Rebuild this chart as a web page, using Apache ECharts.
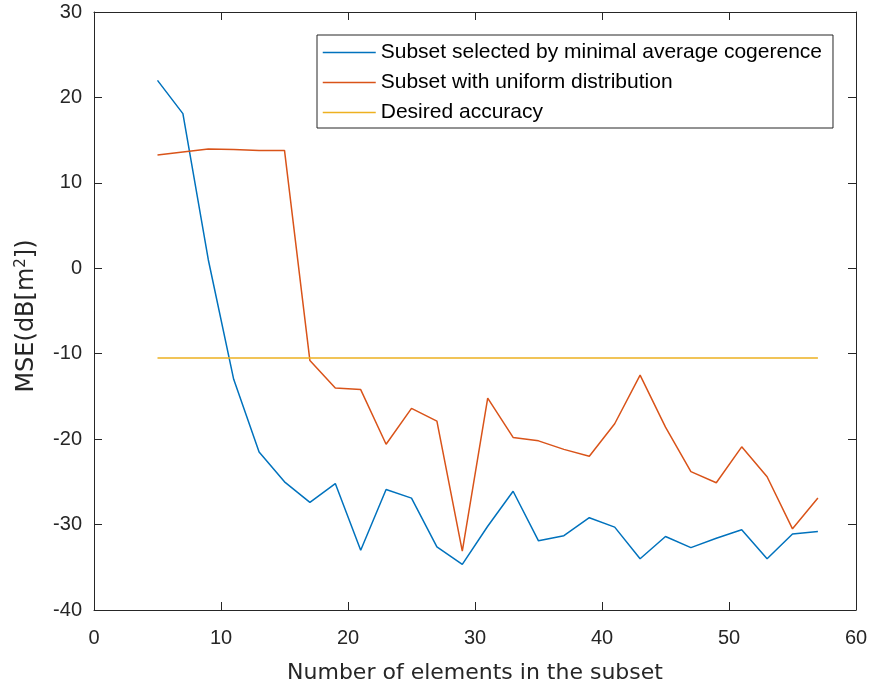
<!DOCTYPE html>
<html>
<head>
<meta charset="utf-8">
<script src="https://cdn.jsdelivr.net/npm/echarts@6/dist/echarts.min.js"></script>
<style>
html,body{margin:0;padding:0;background:#fff;}
#chart{width:871px;height:689px;}
</style>
</head>
<body>
<div id="chart"></div>
<script>
const xValues = [5,7,9,11,13,15,17,19,21,23,25,27,29,31,33,35,37,39,41,43,45,47,49,51,53,55,57];
const minimalCoherence = [22.0,18.1,1.0,-13.0,-21.5,-25.0,-27.4,-25.2,-33.0,-25.9,-26.9,-32.6,-34.65,-30.2,-26.1,-31.9,-31.3,-29.2,-30.3,-34.0,-31.4,-32.7,-31.6,-30.6,-34.0,-31.1,-30.8];
const uniformDistribution = [13.25,13.6,13.95,13.9,13.8,13.8,-10.8,-14.0,-14.2,-20.6,-16.4,-17.9,-33.1,-15.2,-19.8,-20.2,-21.2,-22.0,-18.2,-12.5,-18.6,-23.8,-25.1,-20.9,-24.4,-30.5,-26.9];
const desiredAccuracyX = [5,57];
const desiredAccuracy = [-10.5,-10.5];
const seriesNames = ['Subset selected by minimal average cogerence','Subset with uniform distribution','Desired accuracy'];
const xTicks = {min:0,max:60,interval:10};
const yTicks = {min:-40,max:30,interval:10};

const pairs = (xs, ys) => xs.map((x,i)=>[x, ys[i]]);
const FONT = 'Liberation Sans, Arial, Helvetica, sans-serif';
const NAMEFONT = 'DejaVu Sans, sans-serif';
const AX = '#262626';
const colors = ['#0072BD','#D95319','#EDB120'];

const chart = echarts.init(document.getElementById('chart'));
const axisLine = {show:true, onZero:false, lineStyle:{color:AX, width:1}};
const tickIn = {show:true, inside:true, length:8, lineStyle:{color:AX}};
chart.setOption({
  animation:false,
  backgroundColor:'#fff',
  grid:{left:94,right:15,top:12,bottom:77},
  legend:{
    orient:'vertical', left:317, top:35,
    padding:[7,11,5,5], itemGap:9,
    itemWidth:53, itemHeight:14,
    itemStyle:{opacity:0},
    lineStyle:{width:1.5},
    borderColor:AX, borderWidth:1, backgroundColor:'#fff',
    textStyle:{fontFamily:FONT, fontSize:21, color:'#000'},
    data:seriesNames
  },
  xAxis:[
    {type:'value', min:xTicks.min, max:xTicks.max, interval:xTicks.interval,
     name:'Number of elements in the subset', nameLocation:'middle', nameGap:52,
     nameTextStyle:{fontFamily:NAMEFONT, fontSize:22, color:AX},
     axisLine, axisTick:tickIn, splitLine:{show:false},
     axisLabel:{fontFamily:FONT, fontSize:20, color:AX, margin:18}},
    {type:'value', position:'top', min:xTicks.min, max:xTicks.max, interval:xTicks.interval,
     axisLine, axisTick:tickIn, splitLine:{show:false}, axisLabel:{show:false}}
  ],
  yAxis:[
    {type:'value', min:yTicks.min, max:yTicks.max, interval:yTicks.interval,
     name:'MSE(dB[m{sup|2}])', nameLocation:'middle', nameGap:54,
     nameTextStyle:{fontFamily:NAMEFONT, fontSize:24, color:AX, padding:[0,10,0,0],
       rich:{sup:{fontFamily:NAMEFONT, fontSize:15, color:AX, padding:[0,0,11,0]}}},
     axisLine, axisTick:tickIn, splitLine:{show:false},
     axisLabel:{fontFamily:FONT, fontSize:20, color:AX, margin:12}},
    {type:'value', position:'right', min:yTicks.min, max:yTicks.max, interval:yTicks.interval,
     axisLine, axisTick:tickIn, splitLine:{show:false}, axisLabel:{show:false}}
  ],
  series:[
    {name:seriesNames[0], type:'line', symbol:'none', data:pairs(xValues, minimalCoherence),
     lineStyle:{color:colors[0], width:1.5}, itemStyle:{color:colors[0]}},
    {name:seriesNames[1], type:'line', symbol:'none', data:pairs(xValues, uniformDistribution),
     lineStyle:{color:colors[1], width:1.5}, itemStyle:{color:colors[1]}},
    {name:seriesNames[2], type:'line', symbol:'none', data:pairs(desiredAccuracyX, desiredAccuracy),
     lineStyle:{color:colors[2], width:1.5}, itemStyle:{color:colors[2]}}
  ]
});
</script>
</body>
</html>
